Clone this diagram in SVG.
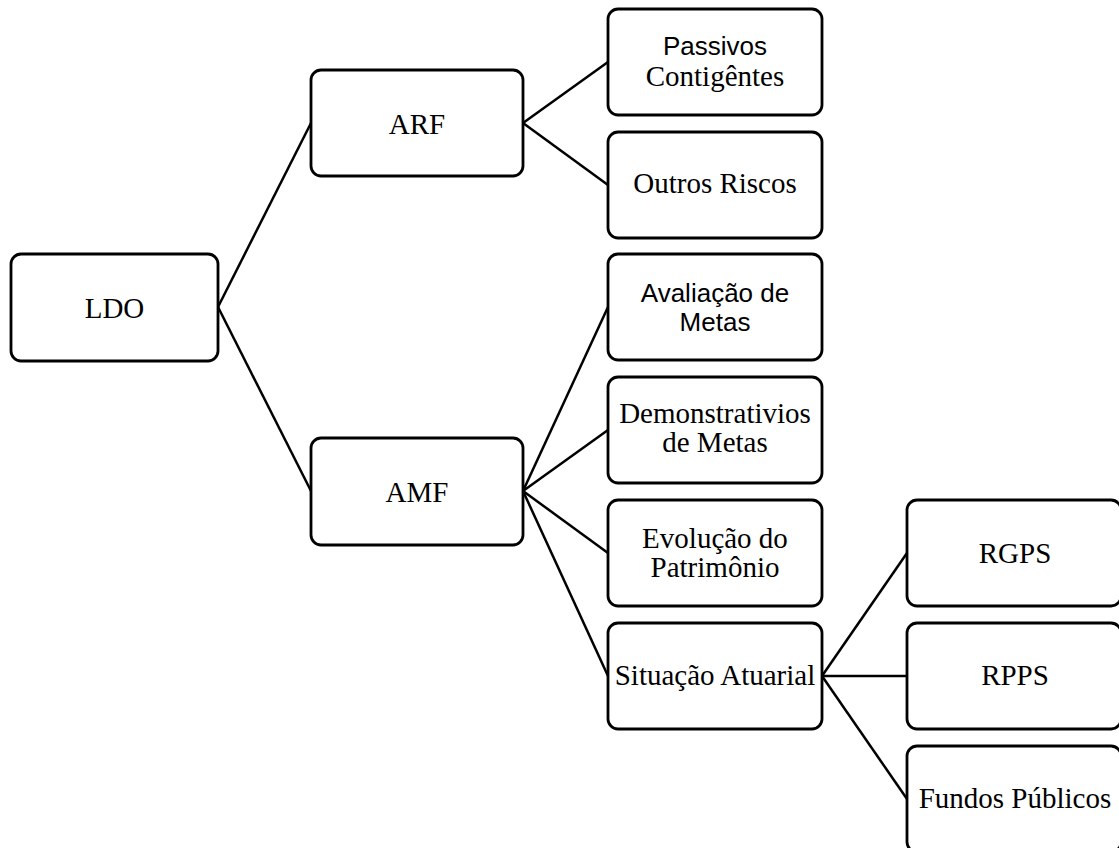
<svg xmlns="http://www.w3.org/2000/svg" width="1119" height="848" viewBox="0 0 1119 848">
<style>
.box{fill:#fff;stroke:#000;stroke-width:2.8}
.con{stroke:#000;stroke-width:2.5;fill:none}
.t{font-family:"Liberation Serif","Times New Roman",serif;font-size:29px;fill:#000;text-anchor:middle}
.s{font-family:"Liberation Sans",Arial,sans-serif;font-size:26px;fill:#000;text-anchor:middle}
</style>
<rect width="1119" height="848" fill="#fff"/>
<g id="connectors">
<line class="con" x1="218" y1="307" x2="311" y2="123"/>
<line class="con" x1="218" y1="307" x2="311" y2="491"/>
<line class="con" x1="523" y1="123" x2="608" y2="62"/>
<line class="con" x1="523" y1="123" x2="608" y2="185"/>
<line class="con" x1="523" y1="491" x2="608" y2="307"/>
<line class="con" x1="523" y1="491" x2="608" y2="430"/>
<line class="con" x1="523" y1="491" x2="608" y2="553"/>
<line class="con" x1="523" y1="491" x2="608" y2="676"/>
<line class="con" x1="822" y1="676" x2="907" y2="553"/>
<line class="con" x1="822" y1="676" x2="907" y2="676"/>
<line class="con" x1="822" y1="676" x2="907" y2="799"/>
</g>
<g id="ldo"><rect class="box" x="11" y="254" width="207" height="107" rx="10"/><text class="t" x="114.5" y="318">LDO</text></g>
<g id="arf"><rect class="box" x="311" y="70" width="212" height="106" rx="10"/><text class="t" x="417" y="134">ARF</text></g>
<g id="amf"><rect class="box" x="311" y="438" width="212" height="107" rx="10"/><text class="t" x="417" y="502">AMF</text></g>
<g id="passivos"><rect class="box" x="608" y="9" width="214" height="106" rx="10"/><text class="s" x="715" y="55">Passivos</text><text class="t" x="715" y="86">Contigêntes</text></g>
<g id="outros"><rect class="box" x="608" y="132" width="214" height="106" rx="10"/><text class="t" x="715" y="193">Outros Riscos</text></g>
<g id="avaliacao"><rect class="box" x="608" y="254" width="214" height="106" rx="10"/><text class="s" x="715" y="302">Avaliação de</text><text class="s" x="715" y="331">Metas</text></g>
<g id="demonstrativos"><rect class="box" x="608" y="377" width="214" height="106" rx="10"/><text class="t" x="715" y="423">Demonstrativios</text><text class="t" x="715" y="452">de Metas</text></g>
<g id="evolucao"><rect class="box" x="608" y="500" width="214" height="106" rx="10"/><text class="t" x="715" y="548">Evolução do</text><text class="t" x="715" y="577">Patrimônio</text></g>
<g id="situacao"><rect class="box" x="608" y="623" width="214" height="106" rx="10"/><text class="t" x="715" y="685">Situação Atuarial</text></g>
<g id="rgps"><rect class="box" x="907" y="500" width="214" height="106" rx="10"/><text class="t" x="1015" y="563">RGPS</text></g>
<g id="rpps"><rect class="box" x="907" y="623" width="214" height="106" rx="10"/><text class="t" x="1015" y="685">RPPS</text></g>
<g id="fundos"><rect class="box" x="907" y="746" width="214" height="106" rx="10"/><text class="t" x="1015" y="808">Fundos Públicos</text></g>
</svg>
